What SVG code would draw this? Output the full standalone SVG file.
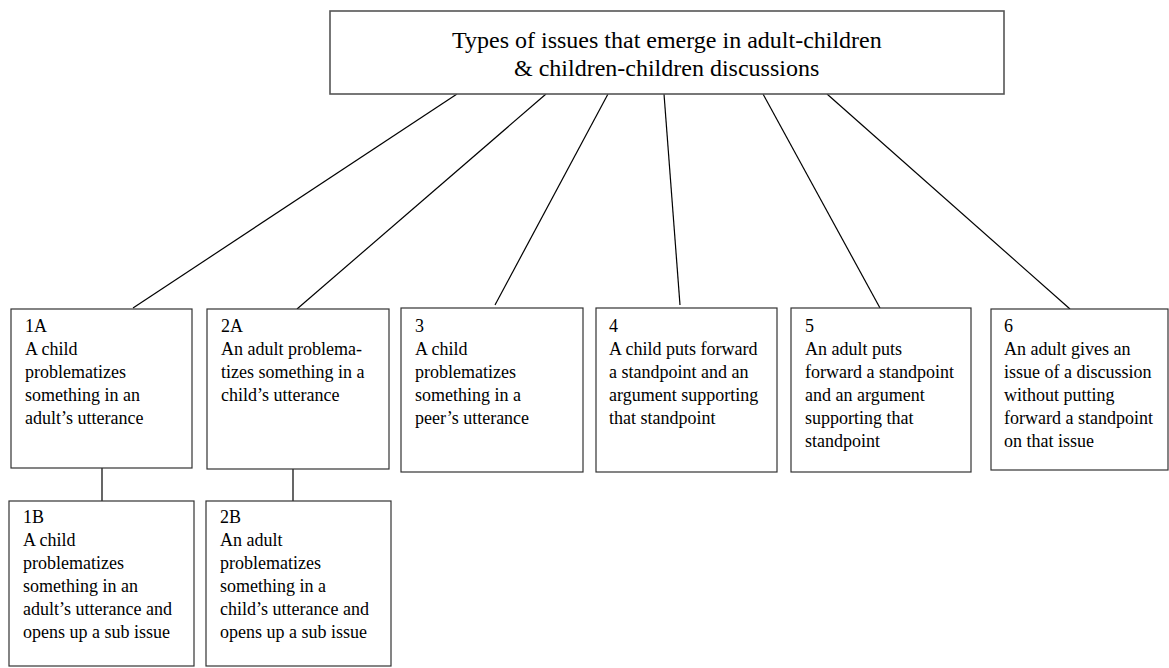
<svg xmlns="http://www.w3.org/2000/svg" width="1169" height="668" viewBox="0 0 1169 668">
  <style>
    .box { fill: #ffffff; stroke: #333333; stroke-width: 1.2; }
    .root { fill: #ffffff; stroke: #555555; stroke-width: 1.6; }
    .txt { font-family: "Liberation Serif", "Times New Roman", serif; font-size: 18px; fill: #000000; }
    .title { font-family: "Liberation Serif", "Times New Roman", serif; font-size: 24px; fill: #000000; }
    .link { stroke: #000000; stroke-width: 1.2; fill: none; }
  </style>
  <rect width="1169" height="668" fill="#ffffff"/>

  <!-- connectors: root to each issue type, and A-types to their B sub-issues -->
  <g id="connectors">
    <line class="link" x1="457" y1="94" x2="133" y2="308"/>
    <line class="link" x1="546" y1="94" x2="297" y2="309"/>
    <line class="link" x1="608" y1="94" x2="495" y2="305"/>
    <line class="link" x1="664" y1="94" x2="680" y2="305"/>
    <line class="link" x1="763" y1="94" x2="880" y2="308"/>
    <line class="link" x1="827" y1="94" x2="1070" y2="309"/>
    <line class="link" x1="102" y1="468" x2="102" y2="501"/>
    <line class="link" x1="293" y1="469" x2="293" y2="501"/>
  </g>

  <!-- root -->
  <g id="root">
    <rect class="root" x="330" y="11" width="674" height="83"/>
    <text class="title" x="452" y="48">Types of issues that emerge in adult-children</text>
    <text class="title" x="514" y="76">&amp; children-children discussions</text>
  </g>

  <g id="n1A">
    <rect class="box" x="11" y="309" width="181" height="159"/>
    <text class="txt" x="25" y="332">1A</text>
    <text class="txt" x="25" y="355">A child</text>
    <text class="txt" x="25" y="378">problematizes</text>
    <text class="txt" x="25" y="401">something in an</text>
    <text class="txt" x="25" y="424">adult’s utterance</text>
  </g>

  <g id="n2A">
    <rect class="box" x="207" y="309" width="182" height="160"/>
    <text class="txt" x="221" y="332">2A</text>
    <text class="txt" x="221" y="355">An adult problema-</text>
    <text class="txt" x="221" y="378">tizes something in a</text>
    <text class="txt" x="221" y="401">child’s utterance</text>
  </g>

  <g id="n3">
    <rect class="box" x="401" y="308" width="182" height="164"/>
    <text class="txt" x="415" y="332">3</text>
    <text class="txt" x="415" y="355">A child</text>
    <text class="txt" x="415" y="378">problematizes</text>
    <text class="txt" x="415" y="401">something in a</text>
    <text class="txt" x="415" y="424">peer’s utterance</text>
  </g>

  <g id="n4">
    <rect class="box" x="596" y="308" width="181" height="164"/>
    <text class="txt" x="609" y="332">4</text>
    <text class="txt" x="609" y="355">A child puts forward</text>
    <text class="txt" x="609" y="378">a standpoint and an</text>
    <text class="txt" x="609" y="401">argument supporting</text>
    <text class="txt" x="609" y="424">that standpoint</text>
  </g>

  <g id="n5">
    <rect class="box" x="791" y="308" width="180" height="164"/>
    <text class="txt" x="805" y="332">5</text>
    <text class="txt" x="805" y="355">An adult puts</text>
    <text class="txt" x="805" y="378">forward a standpoint</text>
    <text class="txt" x="805" y="401">and an argument</text>
    <text class="txt" x="805" y="424">supporting that</text>
    <text class="txt" x="805" y="447">standpoint</text>
  </g>

  <g id="n6">
    <rect class="box" x="991" y="309" width="177" height="161"/>
    <text class="txt" x="1004" y="332">6</text>
    <text class="txt" x="1004" y="355">An adult gives an</text>
    <text class="txt" x="1004" y="378">issue of a discussion</text>
    <text class="txt" x="1004" y="401">without putting</text>
    <text class="txt" x="1004" y="424">forward a standpoint</text>
    <text class="txt" x="1004" y="447">on that issue</text>
  </g>

  <g id="n1B">
    <rect class="box" x="9" y="501" width="185" height="165"/>
    <text class="txt" x="23" y="523">1B</text>
    <text class="txt" x="23" y="546">A child</text>
    <text class="txt" x="23" y="569">problematizes</text>
    <text class="txt" x="23" y="592">something in an</text>
    <text class="txt" x="23" y="615">adult’s utterance and</text>
    <text class="txt" x="23" y="638">opens up a sub issue</text>
  </g>

  <g id="n2B">
    <rect class="box" x="206" y="501" width="185" height="165"/>
    <text class="txt" x="220" y="523">2B</text>
    <text class="txt" x="220" y="546">An adult</text>
    <text class="txt" x="220" y="569">problematizes</text>
    <text class="txt" x="220" y="592">something in a</text>
    <text class="txt" x="220" y="615">child’s utterance and</text>
    <text class="txt" x="220" y="638">opens up a sub issue</text>
  </g>
</svg>
